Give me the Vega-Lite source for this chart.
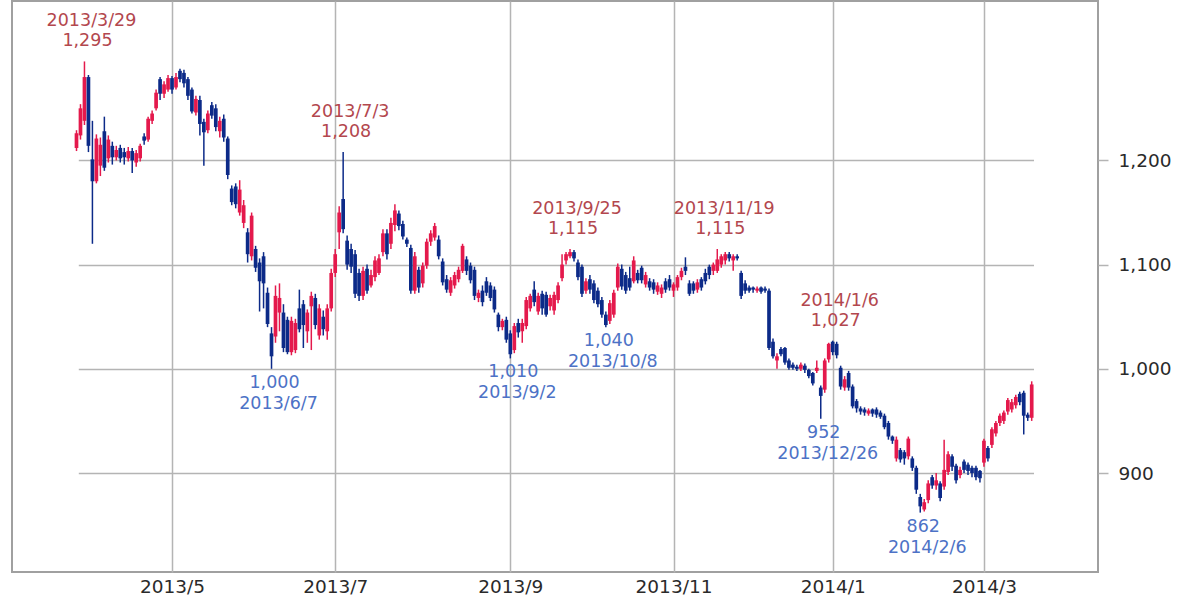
{
  "$schema": "https://vega.github.io/schema/vega-lite/v6.json",
  "width": 1086,
  "height": 571,
  "padding": {"left": 12, "top": 1, "right": 10, "bottom": 5},
  "autosize": {"type": "pad"},
  "background": "white",
  "config": {
    "view": {"stroke": "#a0a0a0", "strokeWidth": 2},
    "font": "DejaVu Sans",
    "axis": {"gridColor": "#b4b4b4", "gridWidth": 1.5, "domain": false, "labelFont": "DejaVu Sans", "labelFontSize": 18.5, "labelColor": "#2a2a2a", "title": null}
  },
  "datasets": {
    "p": [
      {"d":"2013-03-27","o":1212,"h":1229,"l":1209,"c":1226},
      {"d":"2013-03-28","o":1224,"h":1254,"l":1220,"c":1250},
      {"d":"2013-03-29","o":1238,"h":1295,"l":1234,"c":1280},
      {"d":"2013-04-01","o":1280,"h":1282,"l":1208,"c":1214},
      {"d":"2013-04-02","o":1201,"h":1238,"l":1120,"c":1180},
      {"d":"2013-04-03","o":1180,"h":1225,"l":1178,"c":1221},
      {"d":"2013-04-04","o":1195,"h":1222,"l":1185,"c":1215},
      {"d":"2013-04-05","o":1228,"h":1242,"l":1190,"c":1193},
      {"d":"2013-04-08","o":1202,"h":1224,"l":1198,"c":1220},
      {"d":"2013-04-09","o":1214,"h":1218,"l":1196,"c":1203},
      {"d":"2013-04-10","o":1203,"h":1214,"l":1200,"c":1210},
      {"d":"2013-04-11","o":1212,"h":1215,"l":1198,"c":1202},
      {"d":"2013-04-12","o":1208,"h":1212,"l":1196,"c":1203},
      {"d":"2013-04-15","o":1202,"h":1213,"l":1199,"c":1209},
      {"d":"2013-04-16","o":1209,"h":1212,"l":1188,"c":1200},
      {"d":"2013-04-17","o":1198,"h":1210,"l":1194,"c":1207},
      {"d":"2013-04-18","o":1202,"h":1216,"l":1199,"c":1214},
      {"d":"2013-04-19","o":1223,"h":1226,"l":1215,"c":1219},
      {"d":"2013-04-22","o":1220,"h":1242,"l":1218,"c":1240},
      {"d":"2013-04-23","o":1238,"h":1248,"l":1235,"c":1245},
      {"d":"2013-04-24","o":1250,"h":1268,"l":1248,"c":1265},
      {"d":"2013-04-25","o":1278,"h":1280,"l":1258,"c":1264},
      {"d":"2013-04-26","o":1264,"h":1276,"l":1260,"c":1273},
      {"d":"2013-04-30","o":1268,"h":1282,"l":1266,"c":1279},
      {"d":"2013-05-01","o":1279,"h":1281,"l":1264,"c":1268},
      {"d":"2013-05-02","o":1270,"h":1284,"l":1268,"c":1280},
      {"d":"2013-05-07","o":1286,"h":1288,"l":1275,"c":1278},
      {"d":"2013-05-08","o":1284,"h":1287,"l":1270,"c":1274},
      {"d":"2013-05-09","o":1278,"h":1280,"l":1258,"c":1262},
      {"d":"2013-05-10","o":1268,"h":1270,"l":1245,"c":1247},
      {"d":"2013-05-13","o":1246,"h":1262,"l":1243,"c":1259},
      {"d":"2013-05-14","o":1258,"h":1262,"l":1224,"c":1235},
      {"d":"2013-05-15","o":1237,"h":1240,"l":1195,"c":1227},
      {"d":"2013-05-16","o":1229,"h":1248,"l":1226,"c":1245},
      {"d":"2013-05-17","o":1253,"h":1256,"l":1240,"c":1243},
      {"d":"2013-05-20","o":1250,"h":1254,"l":1228,"c":1232},
      {"d":"2013-05-21","o":1228,"h":1242,"l":1222,"c":1238},
      {"d":"2013-05-22","o":1240,"h":1244,"l":1218,"c":1222},
      {"d":"2013-05-23","o":1221,"h":1223,"l":1182,"c":1186},
      {"d":"2013-05-24","o":1173,"h":1176,"l":1157,"c":1160},
      {"d":"2013-05-27","o":1175,"h":1178,"l":1154,"c":1158},
      {"d":"2013-05-28","o":1150,"h":1181,"l":1147,"c":1172},
      {"d":"2013-05-29","o":1140,"h":1162,"l":1135,"c":1157},
      {"d":"2013-05-30","o":1131,"h":1135,"l":1102,"c":1110},
      {"d":"2013-05-31","o":1108,"h":1150,"l":1104,"c":1147},
      {"d":"2013-06-03","o":1115,"h":1118,"l":1093,"c":1097},
      {"d":"2013-06-04","o":1102,"h":1106,"l":1055,"c":1084},
      {"d":"2013-06-05","o":1108,"h":1112,"l":1058,"c":1082},
      {"d":"2013-06-06","o":1073,"h":1078,"l":1040,"c":1043},
      {"d":"2013-06-07","o":1034,"h":1040,"l":1000,"c":1012},
      {"d":"2013-06-10","o":1031,"h":1080,"l":1025,"c":1070},
      {"d":"2013-06-11","o":1054,"h":1082,"l":1036,"c":1068},
      {"d":"2013-06-12","o":1054,"h":1062,"l":1016,"c":1020},
      {"d":"2013-06-13","o":1047,"h":1050,"l":1014,"c":1016},
      {"d":"2013-06-14","o":1016,"h":1050,"l":1013,"c":1046},
      {"d":"2013-06-17","o":1018,"h":1048,"l":1015,"c":1044},
      {"d":"2013-06-18","o":1058,"h":1076,"l":1035,"c":1038},
      {"d":"2013-06-19","o":1062,"h":1066,"l":1020,"c":1042},
      {"d":"2013-06-20","o":1036,"h":1057,"l":1025,"c":1054},
      {"d":"2013-06-21","o":1060,"h":1074,"l":1018,"c":1070},
      {"d":"2013-06-24","o":1068,"h":1072,"l":1038,"c":1042},
      {"d":"2013-06-25","o":1032,"h":1062,"l":1028,"c":1058},
      {"d":"2013-06-26","o":1050,"h":1056,"l":1032,"c":1038},
      {"d":"2013-06-27","o":1036,"h":1062,"l":1028,"c":1058},
      {"d":"2013-06-28","o":1058,"h":1096,"l":1055,"c":1092},
      {"d":"2013-07-01","o":1092,"h":1115,"l":1088,"c":1110},
      {"d":"2013-07-02","o":1131,"h":1156,"l":1115,"c":1150},
      {"d":"2013-07-03","o":1163,"h":1208,"l":1130,"c":1134},
      {"d":"2013-07-04","o":1123,"h":1128,"l":1095,"c":1100},
      {"d":"2013-07-05","o":1115,"h":1120,"l":1092,"c":1098},
      {"d":"2013-07-08","o":1110,"h":1114,"l":1068,"c":1072},
      {"d":"2013-07-09","o":1092,"h":1096,"l":1065,"c":1070},
      {"d":"2013-07-10","o":1070,"h":1098,"l":1066,"c":1094},
      {"d":"2013-07-11","o":1096,"h":1100,"l":1072,"c":1075},
      {"d":"2013-07-12","o":1080,"h":1095,"l":1078,"c":1090},
      {"d":"2013-07-16","o":1088,"h":1108,"l":1084,"c":1104},
      {"d":"2013-07-17","o":1092,"h":1110,"l":1090,"c":1106},
      {"d":"2013-07-18","o":1112,"h":1134,"l":1108,"c":1130},
      {"d":"2013-07-19","o":1130,"h":1134,"l":1105,"c":1110},
      {"d":"2013-07-22","o":1120,"h":1145,"l":1115,"c":1140},
      {"d":"2013-07-23","o":1138,"h":1158,"l":1132,"c":1152},
      {"d":"2013-07-24","o":1149,"h":1152,"l":1133,"c":1137},
      {"d":"2013-07-25","o":1139,"h":1142,"l":1124,"c":1127},
      {"d":"2013-07-26","o":1124,"h":1126,"l":1117,"c":1120},
      {"d":"2013-07-29","o":1116,"h":1119,"l":1072,"c":1075},
      {"d":"2013-07-30","o":1075,"h":1112,"l":1072,"c":1108},
      {"d":"2013-07-31","o":1095,"h":1098,"l":1073,"c":1078},
      {"d":"2013-08-01","o":1082,"h":1102,"l":1078,"c":1099},
      {"d":"2013-08-02","o":1099,"h":1125,"l":1096,"c":1122},
      {"d":"2013-08-05","o":1122,"h":1133,"l":1118,"c":1130},
      {"d":"2013-08-06","o":1126,"h":1140,"l":1123,"c":1137},
      {"d":"2013-08-07","o":1124,"h":1128,"l":1105,"c":1108},
      {"d":"2013-08-08","o":1103,"h":1106,"l":1080,"c":1083},
      {"d":"2013-08-09","o":1086,"h":1090,"l":1073,"c":1076},
      {"d":"2013-08-12","o":1073,"h":1088,"l":1070,"c":1085},
      {"d":"2013-08-13","o":1080,"h":1093,"l":1077,"c":1090},
      {"d":"2013-08-14","o":1086,"h":1098,"l":1083,"c":1095},
      {"d":"2013-08-15","o":1094,"h":1120,"l":1092,"c":1118},
      {"d":"2013-08-16","o":1105,"h":1108,"l":1090,"c":1094},
      {"d":"2013-08-19","o":1099,"h":1102,"l":1082,"c":1085},
      {"d":"2013-08-20","o":1095,"h":1098,"l":1066,"c":1070},
      {"d":"2013-08-21","o":1068,"h":1076,"l":1064,"c":1073},
      {"d":"2013-08-22","o":1075,"h":1080,"l":1060,"c":1064},
      {"d":"2013-08-23","o":1084,"h":1088,"l":1070,"c":1073},
      {"d":"2013-08-26","o":1080,"h":1083,"l":1065,"c":1068},
      {"d":"2013-08-27","o":1076,"h":1079,"l":1054,"c":1057},
      {"d":"2013-08-28","o":1052,"h":1054,"l":1036,"c":1040},
      {"d":"2013-08-29","o":1040,"h":1048,"l":1037,"c":1046},
      {"d":"2013-08-30","o":1047,"h":1050,"l":1025,"c":1028},
      {"d":"2013-09-02","o":1034,"h":1037,"l":1010,"c":1014},
      {"d":"2013-09-03","o":1018,"h":1044,"l":1015,"c":1041},
      {"d":"2013-09-04","o":1044,"h":1048,"l":1030,"c":1035},
      {"d":"2013-09-05","o":1036,"h":1048,"l":1025,"c":1044},
      {"d":"2013-09-06","o":1041,"h":1069,"l":1038,"c":1066},
      {"d":"2013-09-09","o":1058,"h":1072,"l":1055,"c":1070},
      {"d":"2013-09-10","o":1076,"h":1084,"l":1060,"c":1064},
      {"d":"2013-09-11","o":1055,"h":1073,"l":1052,"c":1070},
      {"d":"2013-09-12","o":1072,"h":1075,"l":1052,"c":1058},
      {"d":"2013-09-13","o":1071,"h":1074,"l":1050,"c":1052},
      {"d":"2013-09-17","o":1060,"h":1071,"l":1056,"c":1068},
      {"d":"2013-09-18","o":1056,"h":1074,"l":1052,"c":1071},
      {"d":"2013-09-19","o":1066,"h":1083,"l":1063,"c":1080},
      {"d":"2013-09-20","o":1087,"h":1110,"l":1084,"c":1100},
      {"d":"2013-09-24","o":1104,"h":1112,"l":1100,"c":1110},
      {"d":"2013-09-25","o":1108,"h":1115,"l":1106,"c":1112},
      {"d":"2013-09-26","o":1112,"h":1114,"l":1103,"c":1106},
      {"d":"2013-09-27","o":1102,"h":1105,"l":1085,"c":1088},
      {"d":"2013-09-30","o":1098,"h":1100,"l":1069,"c":1072},
      {"d":"2013-10-01","o":1075,"h":1087,"l":1072,"c":1084},
      {"d":"2013-10-02","o":1086,"h":1090,"l":1072,"c":1076},
      {"d":"2013-10-03","o":1082,"h":1085,"l":1063,"c":1066},
      {"d":"2013-10-04","o":1075,"h":1078,"l":1059,"c":1062},
      {"d":"2013-10-07","o":1066,"h":1069,"l":1049,"c":1052},
      {"d":"2013-10-08","o":1052,"h":1055,"l":1040,"c":1042},
      {"d":"2013-10-09","o":1046,"h":1066,"l":1043,"c":1063},
      {"d":"2013-10-10","o":1052,"h":1076,"l":1049,"c":1073},
      {"d":"2013-10-11","o":1078,"h":1101,"l":1075,"c":1098},
      {"d":"2013-10-15","o":1096,"h":1100,"l":1076,"c":1079},
      {"d":"2013-10-16","o":1090,"h":1093,"l":1072,"c":1075},
      {"d":"2013-10-17","o":1087,"h":1098,"l":1075,"c":1078},
      {"d":"2013-10-18","o":1084,"h":1108,"l":1082,"c":1104},
      {"d":"2013-10-21","o":1092,"h":1095,"l":1082,"c":1085},
      {"d":"2013-10-22","o":1097,"h":1099,"l":1082,"c":1085},
      {"d":"2013-10-23","o":1081,"h":1093,"l":1078,"c":1090},
      {"d":"2013-10-24","o":1084,"h":1087,"l":1075,"c":1078},
      {"d":"2013-10-25","o":1083,"h":1086,"l":1072,"c":1076},
      {"d":"2013-10-28","o":1074,"h":1083,"l":1071,"c":1080},
      {"d":"2013-10-29","o":1072,"h":1081,"l":1068,"c":1078},
      {"d":"2013-10-30","o":1084,"h":1087,"l":1073,"c":1076},
      {"d":"2013-10-31","o":1086,"h":1090,"l":1075,"c":1078},
      {"d":"2013-11-01","o":1075,"h":1083,"l":1069,"c":1081},
      {"d":"2013-11-05","o":1078,"h":1090,"l":1075,"c":1088},
      {"d":"2013-11-06","o":1088,"h":1097,"l":1085,"c":1094},
      {"d":"2013-11-07","o":1098,"h":1107,"l":1090,"c":1094},
      {"d":"2013-11-08","o":1082,"h":1085,"l":1070,"c":1072},
      {"d":"2013-11-11","o":1082,"h":1084,"l":1072,"c":1075},
      {"d":"2013-11-12","o":1076,"h":1086,"l":1073,"c":1083},
      {"d":"2013-11-13","o":1086,"h":1088,"l":1075,"c":1078},
      {"d":"2013-11-14","o":1092,"h":1096,"l":1081,"c":1084},
      {"d":"2013-11-15","o":1098,"h":1100,"l":1086,"c":1090},
      {"d":"2013-11-18","o":1094,"h":1102,"l":1090,"c":1100},
      {"d":"2013-11-19","o":1094,"h":1115,"l":1092,"c":1105},
      {"d":"2013-11-20","o":1100,"h":1110,"l":1097,"c":1108},
      {"d":"2013-11-21","o":1104,"h":1112,"l":1100,"c":1110},
      {"d":"2013-11-22","o":1110,"h":1112,"l":1103,"c":1106},
      {"d":"2013-11-25","o":1104,"h":1110,"l":1094,"c":1108},
      {"d":"2013-11-26","o":1108,"h":1110,"l":1104,"c":1106},
      {"d":"2013-11-27","o":1092,"h":1094,"l":1067,"c":1070},
      {"d":"2013-11-28","o":1082,"h":1085,"l":1072,"c":1075},
      {"d":"2013-11-29","o":1078,"h":1080,"l":1073,"c":1075},
      {"d":"2013-12-02","o":1078,"h":1079,"l":1073,"c":1076},
      {"d":"2013-12-03","o":1075,"h":1079,"l":1073,"c":1077},
      {"d":"2013-12-04","o":1078,"h":1079,"l":1072,"c":1074},
      {"d":"2013-12-05","o":1077,"h":1079,"l":1073,"c":1075},
      {"d":"2013-12-06","o":1075,"h":1077,"l":1018,"c":1020},
      {"d":"2013-12-09","o":1026,"h":1029,"l":1010,"c":1012},
      {"d":"2013-12-10","o":1008,"h":1015,"l":1000,"c":1012},
      {"d":"2013-12-11","o":1019,"h":1021,"l":1012,"c":1014},
      {"d":"2013-12-12","o":1020,"h":1021,"l":1004,"c":1006},
      {"d":"2013-12-13","o":1008,"h":1010,"l":999,"c":1001},
      {"d":"2013-12-16","o":1004,"h":1006,"l":999,"c":1001},
      {"d":"2013-12-17","o":1002,"h":1004,"l":998,"c":1000},
      {"d":"2013-12-18","o":1000,"h":1006,"l":998,"c":1004},
      {"d":"2013-12-19","o":1003,"h":1005,"l":996,"c":999},
      {"d":"2013-12-20","o":999,"h":1000,"l":991,"c":993},
      {"d":"2013-12-24","o":996,"h":997,"l":984,"c":986},
      {"d":"2013-12-25","o":998,"h":1008,"l":996,"c":1001},
      {"d":"2013-12-26","o":982,"h":984,"l":952,"c":974},
      {"d":"2013-12-27","o":980,"h":1010,"l":977,"c":1008},
      {"d":"2013-12-30","o":1009,"h":1025,"l":1006,"c":1024},
      {"d":"2014-01-06","o":1026,"h":1027,"l":1013,"c":1016},
      {"d":"2014-01-07","o":1024,"h":1026,"l":1010,"c":1013},
      {"d":"2014-01-08","o":1001,"h":1003,"l":980,"c":983},
      {"d":"2014-01-09","o":982,"h":993,"l":979,"c":990},
      {"d":"2014-01-10","o":996,"h":998,"l":979,"c":982},
      {"d":"2014-01-14","o":983,"h":985,"l":962,"c":964},
      {"d":"2014-01-15","o":969,"h":971,"l":958,"c":962},
      {"d":"2014-01-16","o":962,"h":964,"l":956,"c":959},
      {"d":"2014-01-17","o":961,"h":963,"l":955,"c":958},
      {"d":"2014-01-20","o":957,"h":962,"l":955,"c":960},
      {"d":"2014-01-21","o":961,"h":962,"l":954,"c":957},
      {"d":"2014-01-22","o":961,"h":963,"l":953,"c":956},
      {"d":"2014-01-23","o":958,"h":960,"l":952,"c":954},
      {"d":"2014-01-24","o":955,"h":957,"l":942,"c":944},
      {"d":"2014-01-27","o":948,"h":950,"l":932,"c":935},
      {"d":"2014-01-28","o":935,"h":936,"l":928,"c":931},
      {"d":"2014-01-29","o":914,"h":935,"l":911,"c":932},
      {"d":"2014-01-30","o":922,"h":924,"l":910,"c":913},
      {"d":"2014-01-31","o":920,"h":922,"l":908,"c":914},
      {"d":"2014-02-03","o":916,"h":935,"l":913,"c":933},
      {"d":"2014-02-04","o":914,"h":916,"l":902,"c":905},
      {"d":"2014-02-05","o":905,"h":907,"l":880,"c":884},
      {"d":"2014-02-06","o":877,"h":880,"l":862,"c":868},
      {"d":"2014-02-07","o":865,"h":875,"l":863,"c":872},
      {"d":"2014-02-10","o":874,"h":893,"l":871,"c":890},
      {"d":"2014-02-12","o":896,"h":898,"l":885,"c":888},
      {"d":"2014-02-13","o":888,"h":900,"l":884,"c":893},
      {"d":"2014-02-14","o":890,"h":892,"l":873,"c":876},
      {"d":"2014-02-17","o":887,"h":932,"l":884,"c":903},
      {"d":"2014-02-18","o":901,"h":921,"l":898,"c":918},
      {"d":"2014-02-19","o":916,"h":918,"l":902,"c":906},
      {"d":"2014-02-20","o":907,"h":909,"l":890,"c":893},
      {"d":"2014-02-21","o":898,"h":906,"l":895,"c":903},
      {"d":"2014-02-24","o":911,"h":913,"l":900,"c":903},
      {"d":"2014-02-25","o":908,"h":910,"l":898,"c":902},
      {"d":"2014-02-26","o":905,"h":907,"l":896,"c":900},
      {"d":"2014-02-27","o":905,"h":907,"l":893,"c":896},
      {"d":"2014-02-28","o":902,"h":903,"l":891,"c":895},
      {"d":"2014-03-03","o":910,"h":933,"l":906,"c":931},
      {"d":"2014-03-04","o":924,"h":926,"l":911,"c":914},
      {"d":"2014-03-05","o":927,"h":944,"l":924,"c":942},
      {"d":"2014-03-06","o":938,"h":950,"l":935,"c":948},
      {"d":"2014-03-07","o":948,"h":957,"l":945,"c":955},
      {"d":"2014-03-10","o":950,"h":960,"l":947,"c":958},
      {"d":"2014-03-11","o":959,"h":972,"l":956,"c":970},
      {"d":"2014-03-12","o":961,"h":971,"l":958,"c":968},
      {"d":"2014-03-13","o":965,"h":975,"l":962,"c":973},
      {"d":"2014-03-14","o":976,"h":978,"l":965,"c":968},
      {"d":"2014-03-17","o":977,"h":979,"l":937,"c":955},
      {"d":"2014-03-18","o":956,"h":958,"l":950,"c":953},
      {"d":"2014-03-19","o":953,"h":988,"l":950,"c":985}
    ],
    "hi": [
      {"d":"2013-03-29","v":1295,"t":"2013/3/29"},
      {"d":"2013-07-03","v":1208,"t":"2013/7/3"},
      {"d":"2013-09-25","v":1115,"t":"2013/9/25"},
      {"d":"2013-11-19","v":1115,"t":"2013/11/19"},
      {"d":"2014-01-06","v":1027,"t":"2014/1/6"}
    ],
    "lo": [
      {"d":"2013-06-07","v":1000,"t":"2013/6/7"},
      {"d":"2013-09-02","v":1010,"t":"2013/9/2"},
      {"d":"2013-10-08","v":1040,"t":"2013/10/8"},
      {"d":"2013-12-26","v":952,"t":"2013/12/26"},
      {"d":"2014-02-06","v":862,"t":"2014/2/6"}
    ]
  },
  "encoding": {
    "x": {
      "field": "d", "type": "ordinal",
      "scale": {"type": "point", "range": [64.5, 1019.7], "padding": 0},
      "axis": {
        "values": ["2013-05-01","2013-07-01","2013-09-02","2013-11-01","2014-01-06","2014-03-03"],
        "labelExpr": "slice(datum.value,0,4) + '/' + toNumber(slice(datum.value,5,7))",
        "labelAngle": 0, "grid": true, "ticks": false, "labelPadding": 5
      }
    }
  },
  "layer": [
    {
      "data": {"name": "p"},
      "mark": {"type": "rule", "strokeWidth": 1.5},
      "encoding": {
        "y": {"field": "l", "type": "quantitative", "scale": {"domain": [805, 1353], "nice": false, "zero": false},
              "axis": {"orient": "right", "values": [900, 1000, 1100, 1200], "labelExpr": "format(datum.value, ',d')", "grid": true, "tickSize": 10, "tickColor": "#b4b4b4", "tickWidth": 1.5, "labelPadding": 10}},
        "y2": {"field": "h"},
        "color": {"condition": {"test": "datum.c >= datum.o", "value": "#e4194c"}, "value": "#0c2a88"}
      }
    },
    {
      "data": {"name": "p"},
      "mark": {"type": "bar", "size": 3.7},
      "encoding": {
        "y": {"field": "o", "type": "quantitative"},
        "y2": {"field": "c"},
        "color": {"condition": {"test": "datum.c >= datum.o", "value": "#e4194c"}, "value": "#0c2a88"}
      }
    },
    {
      "data": {"name": "hi"},
      "mark": {"type": "text", "dy": -15, "dx": 3, "align": "center", "baseline": "alphabetic", "fontSize": 17.5, "color": "#b3474e"},
      "encoding": {"y": {"field": "v", "type": "quantitative"}, "text": {"field": "v", "type": "quantitative", "format": ",d"}}
    },
    {
      "data": {"name": "hi"},
      "mark": {"type": "text", "dy": -35, "dx": 7, "align": "center", "baseline": "alphabetic", "fontSize": 17.5, "color": "#b3474e"},
      "encoding": {"y": {"field": "v", "type": "quantitative"}, "text": {"field": "t", "type": "nominal"}}
    },
    {
      "data": {"name": "lo"},
      "mark": {"type": "text", "dy": 19, "dx": 3, "align": "center", "baseline": "alphabetic", "fontSize": 17.5, "color": "#4d72c6"},
      "encoding": {"y": {"field": "v", "type": "quantitative"}, "text": {"field": "v", "type": "quantitative", "format": ",d"}}
    },
    {
      "data": {"name": "lo"},
      "mark": {"type": "text", "dy": 40, "dx": 7, "align": "center", "baseline": "alphabetic", "fontSize": 17.5, "color": "#4d72c6"},
      "encoding": {"y": {"field": "v", "type": "quantitative"}, "text": {"field": "t", "type": "nominal"}}
    }
  ]
}
